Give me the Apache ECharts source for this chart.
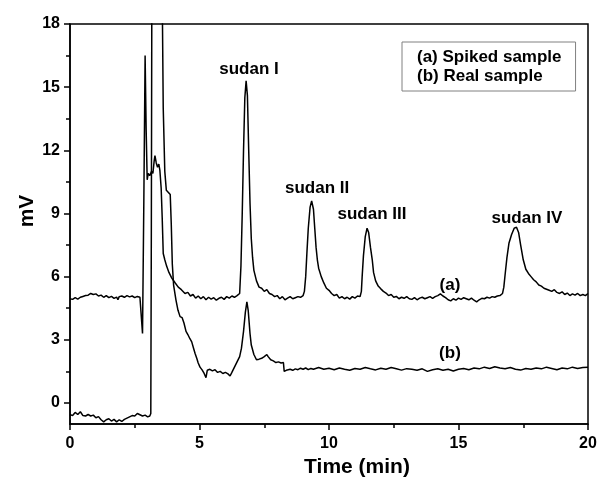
<!DOCTYPE html>
<html>
<head>
<meta charset="utf-8">
<script src="https://cdn.jsdelivr.net/npm/echarts@6/dist/echarts.min.js"></script>
<style>
  html, body { margin: 0; padding: 0; background: #fff; }
  #chart { width: 598px; height: 484px; }
</style>
</head>
<body>
<div id="chart"></div>
<script>
  // chromatogram traces, [time (min), signal (mV)]
  var spikedSample = [
    [0,4.95],[0.1,4.92],[0.2,5.0],[0.3,4.93],[0.4,5.02],[0.5,5.06],[0.6,5.1],[0.7,5.12],[0.8,5.2],[0.9,5.15],
    [1.0,5.18],[1.1,5.08],[1.2,5.12],[1.3,5.02],[1.4,5.1],[1.5,5.0],[1.6,5.06],[1.7,4.97],[1.8,5.03],[1.85,4.9],
    [1.9,5.05],[2.0,5.08],[2.1,5.02],[2.2,5.1],[2.3,5.04],[2.4,5.08],[2.5,5.0],[2.6,5.06],[2.7,5.02],[2.76,5.0],
    [2.8,3.3],[2.85,9.5],[2.9,16.5],[2.94,13.0],[2.98,10.6],[3.02,10.9],[3.08,10.8],[3.15,11.0],[3.2,10.9],[3.25,11.5],
    [3.28,11.75],[3.33,11.4],[3.38,11.2],[3.43,11.35],[3.47,11.05],[3.52,10.2],[3.56,8.8],[3.6,7.1],[3.66,6.8],[3.73,6.5],
    [3.82,6.2],[3.93,5.93],[4.05,5.72],[4.18,5.5],[4.3,5.38],[4.44,5.2],[4.55,5.25],[4.65,5.08],[4.75,5.15],[4.85,4.98],
    [4.95,5.08],[5.05,4.95],[5.15,5.05],[5.25,4.9],[5.35,5.02],[5.45,4.93],[5.55,5.0],[5.65,4.88],[5.75,4.97],[5.85,5.02],
    [5.95,4.92],[6.05,5.05],[6.15,4.98],[6.25,5.08],[6.35,5.02],[6.45,5.1],[6.55,5.2],
    [6.6,6.5],[6.65,9.0],[6.7,12.0],[6.75,14.5],[6.8,15.3],[6.85,14.6],[6.9,12.0],[6.95,9.5],[7.0,7.8],[7.05,6.9],
    [7.1,6.3],[7.2,5.8],[7.3,5.5],[7.4,5.45],[7.5,5.3],[7.6,5.38],[7.7,5.2],[7.8,5.15],[7.9,5.05],[8.0,5.1],
    [8.1,4.95],[8.2,5.05],[8.3,4.9],[8.4,4.98],[8.5,5.05],[8.6,4.95],[8.7,5.0],[8.8,5.05],[8.9,5.02],[9.0,5.1],
    [9.05,5.3],[9.1,6.0],[9.15,7.2],[9.2,8.3],[9.27,9.3],[9.33,9.6],[9.4,9.2],[9.45,8.3],[9.5,7.4],[9.55,6.8],
    [9.6,6.4],[9.7,6.0],[9.8,5.7],[9.9,5.45],[10.0,5.35],[10.1,5.2],[10.2,5.1],[10.3,5.15],[10.4,4.98],[10.5,5.05],
    [10.6,4.95],[10.7,5.02],[10.8,4.93],[10.9,5.05],[11.0,4.98],[11.1,5.08],[11.2,5.05],
    [11.25,5.3],[11.28,6.0],[11.33,7.0],[11.4,7.9],[11.47,8.3],[11.53,8.1],[11.6,7.4],[11.67,6.8],[11.72,6.2],[11.8,5.8],
    [11.9,5.55],[12.0,5.42],[12.1,5.3],[12.2,5.22],[12.3,5.1],[12.4,5.15],[12.5,5.02],[12.6,5.06],[12.7,4.95],[12.8,5.02],
    [12.9,4.97],[13.0,5.05],[13.1,4.95],[13.2,4.92],[13.3,5.0],[13.4,4.9],[13.5,4.98],[13.6,5.02],[13.7,4.95],[13.8,5.0],
    [13.9,5.05],[14.0,4.97],[14.1,5.05],[14.2,5.1],[14.3,5.18],[14.4,5.08],[14.5,5.0],[14.6,4.9],[14.7,4.85],[14.8,4.95],
    [14.9,4.88],[15.0,4.98],[15.1,4.92],[15.2,5.0],[15.3,4.95],[15.4,4.9],[15.5,4.98],[15.6,4.88],[15.7,4.8],[15.8,4.9],
    [15.9,4.97],[16.0,4.95],[16.1,5.02],[16.2,4.98],[16.3,5.05],[16.4,5.02],[16.5,5.08],[16.6,5.1],[16.7,5.2],
    [16.75,5.5],[16.8,6.1],[16.87,6.9],[16.95,7.6],[17.05,8.0],[17.15,8.3],[17.24,8.35],[17.32,8.1],[17.4,7.5],[17.5,6.8],
    [17.6,6.35],[17.7,6.15],[17.8,6.0],[17.9,5.85],[18.0,5.75],[18.1,5.6],[18.2,5.55],[18.3,5.45],[18.4,5.4],[18.5,5.35],
    [18.6,5.3],[18.7,5.38],[18.8,5.25],[18.9,5.2],[19.0,5.28],[19.1,5.15],[19.2,5.22],[19.3,5.1],[19.4,5.18],[19.5,5.12],
    [19.6,5.2],[19.7,5.1],[19.8,5.15],[19.9,5.1],[20.0,5.2]
  ]

  var realSample = [
    [0,-0.55],[0.1,-0.6],[0.2,-0.45],[0.3,-0.55],[0.4,-0.42],[0.5,-0.6],[0.6,-0.62],[0.7,-0.55],[0.8,-0.62],[0.9,-0.58],
    [1.0,-0.7],[1.1,-0.65],[1.2,-0.8],[1.3,-0.9],[1.4,-0.8],[1.5,-0.75],[1.6,-0.86],[1.7,-0.78],[1.8,-0.9],[1.9,-0.8],
    [2.0,-0.88],[2.1,-0.78],[2.2,-0.72],[2.3,-0.66],[2.4,-0.6],[2.5,-0.62],[2.6,-0.5],[2.7,-0.56],[2.8,-0.62],[2.9,-0.58],
    [3.0,-0.66],[3.08,-0.62],[3.12,-0.5],[3.14,8],[3.16,19.5],[3.56,19.5],[3.6,14],[3.66,11],[3.72,10.1],[3.8,10.0],
    [3.87,9.9],[3.91,8.5],[3.95,6.6],[4.0,5.6],[4.09,4.9],[4.17,4.4],[4.25,4.1],[4.33,4.05],[4.4,3.8],[4.48,3.4],
    [4.55,3.25],[4.63,3.05],[4.7,2.9],[4.77,2.6],[4.83,2.35],[4.9,2.1],[4.95,1.9],[5.02,1.7],[5.1,1.57],[5.18,1.4],
    [5.25,1.2],[5.3,1.55],[5.4,1.6],[5.5,1.52],[5.6,1.58],[5.7,1.45],[5.8,1.5],[5.9,1.4],[6.0,1.45],[6.1,1.38],
    [6.18,1.28],[6.25,1.45],[6.35,1.7],[6.45,1.95],[6.55,2.2],[6.62,2.6],[6.7,3.4],[6.77,4.3],[6.83,4.8],[6.88,4.4],
    [6.95,3.3],[7.0,2.75],[7.1,2.3],[7.2,2.05],[7.3,2.08],[7.4,2.12],[7.5,2.2],[7.6,2.3],[7.65,2.2],[7.75,2.05],
    [7.85,2.0],[7.95,1.92],[8.05,1.95],[8.15,1.9],[8.24,1.92],[8.27,1.5],[8.35,1.55],[8.5,1.6],[8.6,1.55],[8.7,1.62],
    [8.8,1.58],[8.9,1.65],[9.0,1.6],[9.1,1.66],[9.2,1.58],[9.3,1.64],[9.4,1.6],[9.6,1.68],[9.8,1.6],[10.0,1.65],
    [10.2,1.58],[10.4,1.66],[10.6,1.6],[10.8,1.55],[11.0,1.64],[11.2,1.6],[11.4,1.68],[11.6,1.62],[11.8,1.57],[12.0,1.65],
    [12.2,1.6],[12.4,1.68],[12.6,1.62],[12.8,1.56],[13.0,1.63],[13.2,1.6],[13.4,1.55],[13.6,1.62],[13.8,1.5],[14.0,1.58],
    [14.2,1.62],[14.4,1.55],[14.6,1.6],[14.8,1.52],[15.0,1.6],[15.2,1.64],[15.4,1.58],[15.6,1.66],[15.8,1.62],[16.0,1.7],
    [16.2,1.64],[16.4,1.72],[16.6,1.66],[16.8,1.62],[17.0,1.68],[17.2,1.6],[17.4,1.56],[17.6,1.64],[17.8,1.6],[18.0,1.66],
    [18.2,1.62],[18.4,1.7],[18.6,1.64],[18.8,1.58],[19.0,1.66],[19.2,1.62],[19.4,1.7],[19.6,1.64],[19.8,1.68],[20.0,1.7]
  ]

  var seriesNames = ['(a) Spiked sample', '(b) Real sample']

  // peak / trace annotations
  var annoText = ['sudan I', 'sudan II', 'sudan III', 'sudan IV', '(a)', '(b)']
  var annoX = [6.91, 9.54, 11.66, 17.64, 14.67, 14.67]
  var annoY = [15.87, 10.21, 8.98, 8.79, 5.61, 2.38]

  var yTicks = [0, 3, 6, 9, 12, 15, 18]
  var yMinorTicks = [1.5, 4.5, 7.5, 10.5, 13.5, 16.5]

  var font = "'Liberation Sans', Arial, sans-serif"

  var chart = echarts.init(document.getElementById('chart'))

  chart.setOption({
    animation: false,
    backgroundColor: '#fff',
    grid: {
      left: 70,
      right: 10,
      top: 24,
      bottom: 60,
      outerBoundsMode: 'none',
      show: true,
      borderColor: '#000',
      borderWidth: 1.5
    },
    legend: {
      data: seriesNames,
      orient: 'vertical',
      left: 402,
      top: 42,
      icon: 'none',
      itemWidth: 0,
      itemHeight: 17,
      itemGap: 2,
      padding: [7, 14, 6, 10],
      borderColor: '#808080',
      borderWidth: 1,
      selectedMode: false,
      textStyle: {
        fontFamily: font,
        fontWeight: 'bold',
        fontSize: 17,
        color: '#000'
      }
    },
    xAxis: {
      type: 'value',
      min: 0,
      max: 20,
      interval: 5,
      name: 'Time (min)',
      nameLocation: 'middle',
      nameGap: 32,
      nameTextStyle: {
        fontFamily: font,
        fontWeight: 'bold',
        fontSize: 21,
        color: '#000',
        padding: [0, 0, 0, 56]
      },
      axisLine: { show: true, onZero: false, lineStyle: { color: '#000', width: 1.5 } },
      axisTick: { show: true, inside: false, length: 6, lineStyle: { color: '#000', width: 1.5 } },
      minorTick: { show: true, splitNumber: 2, length: 4, lineStyle: { color: '#000', width: 1.5 } },
      splitLine: { show: false },
      axisLabel: {
        margin: 12,
        fontFamily: font,
        fontWeight: 'bold',
        fontSize: 16,
        color: '#000'
      }
    },
    yAxis: [{
      type: 'value',
      min: -1,
      max: 18,
      name: 'mV',
      nameLocation: 'middle',
      nameGap: 32,
      nameMoveOverlap: false,
      nameTextStyle: {
        fontFamily: font,
        fontWeight: 'bold',
        fontSize: 21,
        color: '#000',
        padding: [0, 0, 0, 26]
      },
      axisLine: { show: true, onZero: false, lineStyle: { color: '#000', width: 1.5 } },
      axisTick: { show: true, inside: false, length: 6, customValues: yTicks, lineStyle: { color: '#000', width: 1.5 } },
      splitLine: { show: false },
      axisLabel: {
        customValues: yTicks,
        margin: 10,
        fontFamily: font,
        fontWeight: 'bold',
        fontSize: 16,
        color: '#000'
      }
    }, {
      type: 'value',
      min: -1,
      max: 18,
      position: 'left',
      axisLine: { show: false, onZero: false },
      axisTick: { show: true, inside: false, length: 4, customValues: yMinorTicks, lineStyle: { color: '#000', width: 1.5 } },
      axisLabel: { show: false },
      splitLine: { show: false }
    }],
    series: [
      {
        name: seriesNames[0],
        type: 'line',
        data: spikedSample,
        showSymbol: false,
        clip: true,
        lineStyle: { color: '#000', width: 1.5 },
        itemStyle: { color: '#000' }
      },
      {
        name: seriesNames[1],
        type: 'line',
        data: realSample,
        showSymbol: false,
        clip: true,
        lineStyle: { color: '#000', width: 1.5 },
        itemStyle: { color: '#000' }
      },
      {
        type: 'scatter',
        silent: true,
        symbolSize: 0,
        itemStyle: { opacity: 1, color: '#000' },
        data: annoText.map(function (t, i) {
          return { name: t, value: [annoX[i], annoY[i]] }
        }),
        label: {
          show: true,
          position: 'inside',
          formatter: '{b}',
          fontFamily: font,
          fontWeight: 'bold',
          fontSize: 17,
          color: '#000',
          opacity: 1,
          textBorderWidth: 0
        }
      }
    ]
  })
</script>
</body>
</html>
